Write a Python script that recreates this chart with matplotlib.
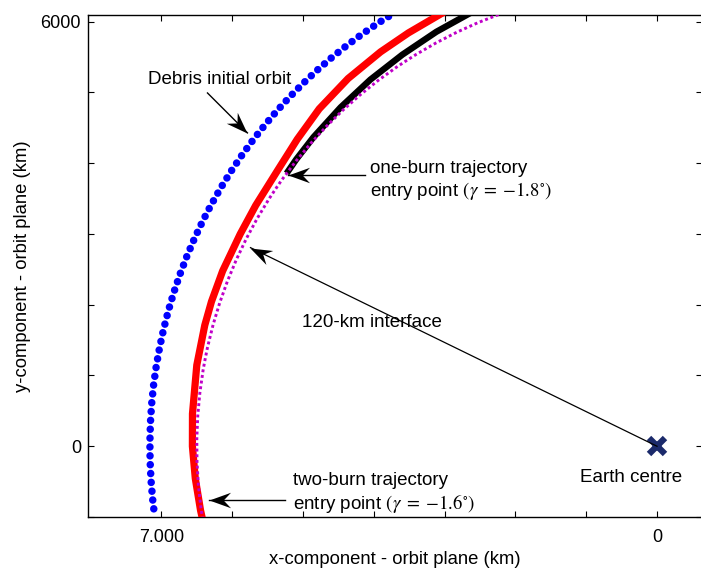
import numpy as np
import matplotlib.pyplot as plt
from matplotlib.patches import Arc
from matplotlib.path import Path
from matplotlib.markers import MarkerStyle
from matplotlib.transforms import Affine2D

plt.rcParams['font.family'] = ['Liberation Sans', 'DejaVu Sans']
plt.rcParams['mathtext.fontset'] = 'stix'
plt.rcParams['font.size'] = 13

# ---- dati (km, piano dell'orbita, Terra al centro) ----
r_detrito = 7160                 # orbita iniziale del detrito
theta_detrito = (-7.1, 62.0)     # arco visibile (gradi)
passo_detrito = 1.0              # un punto per grado
r_interfaccia = 6498             # interfaccia 120 km

# traiettoria a due impulsi (rossa)
x_due = [2996, 3510, 3903, 4361, 4769, 5080, 5360, 5666, 5885, 6133,
         6291, 6385, 6498, 6559, 6560, 6519, 6445, 6396]
y_due = [6143, 5842, 5574, 5198, 4769, 4338, 3894, 3404, 2999, 2478,
         2044, 1711, 1146, 459, 0, -456, -906, -1128]

# traiettoria a un impulso (nera)
x_uno = [2606, 3115, 3595, 4048, 4467, 4851, 5095, 5230]
y_uno = [6140, 5858, 5535, 5181, 4790, 4368, 4053, 3856]

x_tick = [0, 1000, 2000, 3000, 4000, 5000, 6000, 7000]
x_tick_lab = ['0', '', '', '', '', '', '', '7.000']
y_tick = [-1000, 0, 1000, 2000, 3000, 4000, 5000, 6000]
y_tick_lab = ['', '0', '', '', '', '', '', '6000']

fs_testo = 13.5

fig = plt.figure(figsize=(7.01, 5.72), dpi=100)
ax = fig.add_axes([88 / 701, 55 / 572, 614 / 701, 502 / 572])
ax.set_xlim(8034, -635)
ax.set_ylim(-985, 6095)

# orbita del detrito: punti blu (trattini nulli con estremi tondi)
lw_blu = 5.4
ax.add_patch(Arc((0, 0), 2 * r_detrito, 2 * r_detrito,
                 theta1=theta_detrito[0], theta2=theta_detrito[1],
                 edgecolor='#0000ff', lw=lw_blu, capstyle='round',
                 linestyle=(0, (0.01, 6.38 * passo_detrito / lw_blu - 0.01)),
                 zorder=2))

ax.plot(x_due, y_due, color='#ff0000', lw=5.2, solid_capstyle='butt', zorder=3)
ax.plot(x_uno, y_uno, color='black', lw=4.6, solid_capstyle='butt', zorder=4)

ax.add_patch(Arc((0, 0), 2 * r_interfaccia, 2 * r_interfaccia,
                 theta1=-12, theta2=80, edgecolor='#c000c8', lw=2.1,
                 linestyle=(0, (1, 0.95)), capstyle='butt', zorder=5))

ax.plot(0, 0, marker='x', ms=12, mew=4.5, color='#1b2a6b', zorder=6,
        linestyle='none')

# frecce stile matlab
testa = Path([(0, 0), (-1, 0.36), (-0.66, 0), (-1, -0.36), (0, 0)],
             [Path.MOVETO, Path.LINETO, Path.LINETO, Path.LINETO, Path.CLOSEPOLY])


def freccia(coda, punta, lw=1.0):
    ax.plot([coda[0], punta[0]], [coda[1], punta[1]], color='black', lw=lw, zorder=7)
    p0 = ax.transData.transform(coda)
    p1 = ax.transData.transform(punta)
    ang = np.degrees(np.arctan2(p1[1] - p0[1], p1[0] - p0[0]))
    m = MarkerStyle(testa, transform=Affine2D().rotate_deg(ang))
    ax.plot(punta[0], punta[1], marker=m, ms=31, color='black', mew=0,
            linestyle='none', zorder=8)


ax.text(7193, 5190, 'Debris initial orbit', ha='left', va='center', fontsize=fs_testo)
freccia((6347, 4993), (5783, 4429))

ax.text(4048, 3750,
        'one-burn trajectory\nentry point $(\\gamma\\;=\\;{-}1.8^{\\circ})$',
        ha='left', va='center', fontsize=fs_testo)
freccia((4118, 3836), (5204, 3836))

ax.text(4020, 1749, '120-km interface', ha='center', va='center', fontsize=fs_testo)
freccia((0, 0), (5740, 2807), lw=0.9)

ax.text(5134, -670,
        'two-burn trajectory\nentry point $(\\gamma\\;=\\;{-}1.6^{\\circ})$',
        ha='left', va='center', fontsize=fs_testo)
freccia((5247, -762), (6319, -762))

ax.text(367, -437, 'Earth centre', ha='center', va='center', fontsize=fs_testo)

ax.set_xticks(x_tick)
ax.set_xticklabels(x_tick_lab)
ax.set_yticks(y_tick)
ax.set_yticklabels(y_tick_lab)
ax.tick_params(direction='in', length=4, width=0.8, top=True, right=True)
ax.tick_params(axis='x', pad=9)
ax.tick_params(axis='y', pad=5)
for s in ax.spines.values():
    s.set_linewidth(1.0)

ax.set_xlabel('x-component - orbit plane (km)', labelpad=3, fontsize=13.3)
ax.set_ylabel('y-component - orbit plane (km)', labelpad=7, fontsize=13.3)

fig.savefig('out.png', dpi=100)
